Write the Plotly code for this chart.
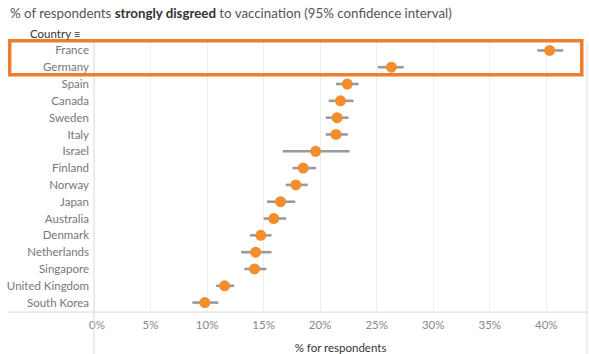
import plotly.graph_objects as go

countries = ["France", "Germany", "Spain", "Canada", "Sweden", "Italy", "Israel", "Finland",
             "Norway", "Japan", "Australia", "Denmark", "Netherlands", "Singapore",
             "United Kingdom", "South Korea"]
pct = [40.3, 26.3, 22.4, 21.8, 21.5, 21.4, 19.6, 18.5, 17.85, 16.5, 15.9, 14.75, 14.3, 14.2, 11.55, 9.8]
ci_low = [39.2, 25.1, 21.4, 20.75, 20.5, 20.5, 16.7, 17.55, 16.95, 15.3, 15.0, 13.8, 13.0, 13.3, 10.8, 8.7]
ci_high = [41.5, 27.4, 23.4, 22.95, 22.5, 22.45, 22.6, 19.65, 18.9, 17.8, 17.0, 15.7, 15.7, 15.25, 12.4, 11.0]
tick_vals = [0, 5, 10, 15, 20, 25, 30, 35, 40]
tick_text = ["\u00a0\u00a00%", "5%", "10%", "15%", "20%", "25%", "30%", "35%", "40%"]

err_plus = [h - p for h, p in zip(ci_high, pct)]
err_minus = [p - l for p, l in zip(pct, ci_low)]

FONT = "Lato"
fig = go.Figure()
fig.add_trace(go.Scatter(
    x=pct, y=countries, mode="markers",
    marker=dict(color="#F28E2B", size=11, line=dict(width=0)),
    error_x=dict(type="data", array=err_plus, arrayminus=err_minus,
                 color="#9a9a9a", thickness=2.6, width=0),
    hoverinfo="x+y",
))

fig.update_layout(
    width=589, height=354,
    margin=dict(l=94, r=2, t=42, b=43),
    paper_bgcolor="white", plot_bgcolor="white",
    showlegend=False,
    font=dict(family=FONT, size=11, color="#777"),
    title=dict(
        text="% of respondents <b style='color:#333'>strongly disgreed</b> to vaccination (95% confidence interval)",
        x=10/589, xref="container", xanchor="left",
        y=1-13/354, yref="container", yanchor="middle",
        font=dict(family=FONT, size=13.3, color="#555"),
    ),
    xaxis=dict(
        range=[0, 43.6], tickvals=tick_vals, ticktext=tick_text,
        showgrid=True, gridcolor="#eeeeee", gridwidth=1,
        zeroline=False, showline=False, ticks="",
        ticklabelstandoff=5,
        tickfont=dict(family=FONT, size=11.5, color="#888"),
        title=dict(text="% for respondents", font=dict(family=FONT, size=11.5, color="#333"), standoff=14),
        fixedrange=True,
    ),
    yaxis=dict(
        categoryorder="array", categoryarray=countries[::-1],
        range=[-0.5, len(countries) - 0.5],
        showgrid=False, zeroline=False, showline=False, ticks="",
        ticklabelstandoff=4,
        tickfont=dict(family=FONT, size=11.5, color="#777"),
        fixedrange=True,
    ),
    shapes=[
        # left axis line
        dict(type="line", xref="paper", yref="paper", x0=0, x1=0, y0=-0.162, y1=1.0,
             line=dict(color="#d9d9d9", width=1)),
        # right border
        dict(type="line", xref="paper", yref="paper", x0=1, x1=1, y0=-0.162, y1=1.0,
             line=dict(color="#e0e0e0", width=1)),
        # bottom axis line
        dict(type="line", xref="paper", yref="paper", x0=-0.175, x1=1, y0=-0.004, y1=-0.004,
             line=dict(color="#d9d9d9", width=1)),
        # highlight rectangle
        dict(type="rect", xref="paper", yref="paper", x0=-0.171, x1=0.9894, y0=0.878, y1=1.005,
             line=dict(color="#ED7D31", width=3.5), fillcolor="rgba(0,0,0,0)"),
    ],
    annotations=[
        dict(text="Country \u2261", xref="paper", yref="paper",
             x=(28-94.3)/492.4, y=(310.7-34)/268.4, xanchor="left", yanchor="middle",
             showarrow=False, font=dict(family=FONT, size=11.5, color="#333")),
    ],
)

fig.write_html("out.html")
